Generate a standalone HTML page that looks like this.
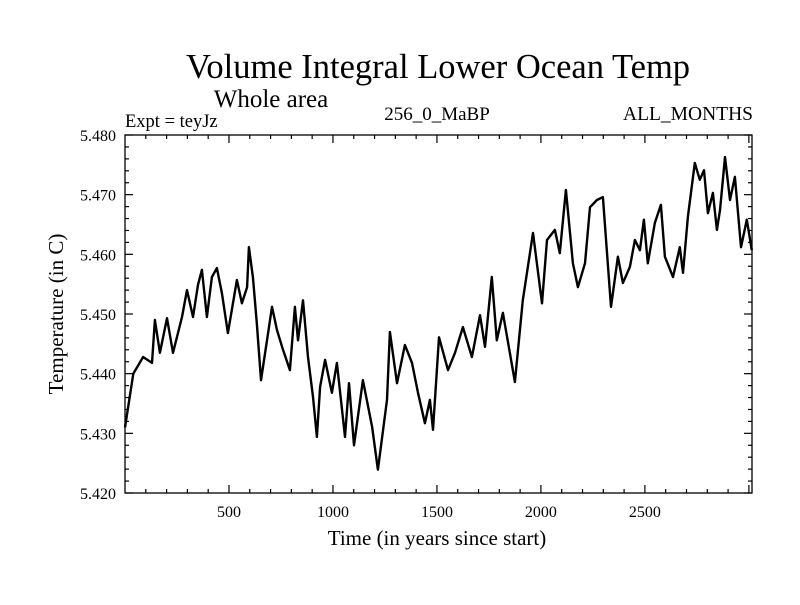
<!DOCTYPE html>
<html><head><meta charset="utf-8"><style>
body{margin:0;background:#fff}
svg text{font-family:"Liberation Serif",serif;fill:#000}
</style></head><body>
<svg width="800" height="600" id="c">
<text x="438" y="78" font-size="34.5" text-anchor="middle">Volume Integral Lower Ocean Temp</text>
<text x="271" y="107" font-size="25" text-anchor="middle">Whole area</text>
<text x="125" y="127" font-size="18.5">Expt = teyJz</text>
<text x="437" y="120" font-size="19" text-anchor="middle">256_0_MaBP</text>
<text x="753" y="120" font-size="19.5" text-anchor="end">ALL_MONTHS</text>
<text x="437" y="545" font-size="21" text-anchor="middle">Time (in years since start)</text>
<text transform="translate(63,314) rotate(-90)" font-size="21" text-anchor="middle">Temperature (in C)</text>
<g id="axes"></g>
<path id="line" fill="none" stroke="#000" stroke-width="2.4" stroke-linejoin="round"></path>
<rect x="125" y="135" width="627" height="358" fill="none" stroke="#000" stroke-width="1.3"></rect>
</svg>
<script>
const years=[0,40,87,130,144,168,202,231,274,298,327,351,370,394,418,442,466,495,538,562,587,596,615,634,654,683,707,731,760,793,817,832,856,880,904,923,938,962,995,1019,1058,1077,1101,1144,1188,1216,1260,1274,1308,1346,1380,1409,1442,1466,1481,1510,1553,1587,1625,1668,1707,1731,1764,1788,1817,1875,1913,1962,2005,2029,2067,2091,2120,2154,2178,2212,2236,2269,2298,2317,2337,2370,2394,2428,2452,2476,2495,2514,2548,2577,2596,2635,2668,2683,2707,2740,2764,2784,2803,2827,2846,2861,2885,2909,2933,2962,2990,3014];
const temps=[5.431,5.440,5.4428,5.4418,5.449,5.4435,5.4493,5.4435,5.4495,5.454,5.4495,5.4549,5.4574,5.4495,5.4562,5.4577,5.4535,5.4468,5.4557,5.4518,5.4545,5.4612,5.4562,5.4485,5.4389,5.4456,5.4512,5.4473,5.444,5.4406,5.4512,5.4456,5.4523,5.4428,5.4361,5.4294,5.4378,5.4423,5.4368,5.4418,5.4294,5.4384,5.428,5.4389,5.4311,5.4239,5.4356,5.447,5.4384,5.4448,5.4418,5.4368,5.4317,5.4356,5.4306,5.4461,5.4406,5.4435,5.4478,5.4428,5.4498,5.4445,5.4562,5.4456,5.4502,5.4386,5.4523,5.4636,5.4518,5.4624,5.4641,5.4602,5.4708,5.4585,5.4545,5.4585,5.4679,5.4691,5.4696,5.4607,5.4512,5.4596,5.4552,5.4579,5.4624,5.4607,5.4658,5.4585,5.4653,5.4683,5.4596,5.4562,5.4612,5.4569,5.4663,5.4753,5.4725,5.4741,5.4669,5.4703,5.4641,5.4674,5.4763,5.4691,5.473,5.4612,5.4658,5.4607];
const xTicks=[500,1000,1500,2000,2500];
const yTicks=[5.420,5.430,5.440,5.450,5.460,5.470,5.480];
const X0=125,X1=752,Y0=493,Y1=135,XMIN=0,XMAX=3015,YMIN=5.42,YMAX=5.48;
const sx=v=>X0+(v-XMIN)/(XMAX-XMIN)*(X1-X0);
const sy=v=>Y0-(v-YMIN)/(YMAX-YMIN)*(Y0-Y1);
const NS="http://www.w3.org/2000/svg",g=document.getElementById('axes');
function ln(x1,y1,x2,y2,name){const l=document.createElementNS(NS,'line');l.setAttribute('x1',x1);l.setAttribute('y1',y1);l.setAttribute('x2',x2);l.setAttribute('y2',y2);l.setAttribute('stroke','#000');l.setAttribute('stroke-width','1.2');


g.appendChild(l);}
function tx(x,y,s,anchor,name){const t=document.createElementNS(NS,'text');t.setAttribute('x',x);t.setAttribute('y',y);t.setAttribute('font-size','16');t.setAttribute('text-anchor',anchor);t.textContent=s;


g.appendChild(t);}
for(let v=100;v<XMAX;v+=100){const x=sx(v),L=(v%500===0)?8:4;ln(x,Y0,x,Y0-L,'x-tick');ln(x,Y1,x,Y1+L,'x-tick-top');}
xTicks.forEach(v=>tx(sx(v),517,String(v),'middle','x-tick-label'));
for(let i=0;i<=30;i++){const v=YMIN+i*0.002,y=sy(v),L=(i%5===0)?8:4;ln(X0,y,X0+L,y,'y-tick');ln(X1,y,X1-L,y,'y-tick-right');}
yTicks.forEach(v=>tx(116,sy(v)+6,v.toFixed(3),'end','y-tick-label'));
document.getElementById('line').setAttribute('d',years.map((y,i)=>(i?'L':'M')+sx(y).toFixed(1)+','+sy(temps[i]).toFixed(1)).join(''));
</script>
</body></html>
